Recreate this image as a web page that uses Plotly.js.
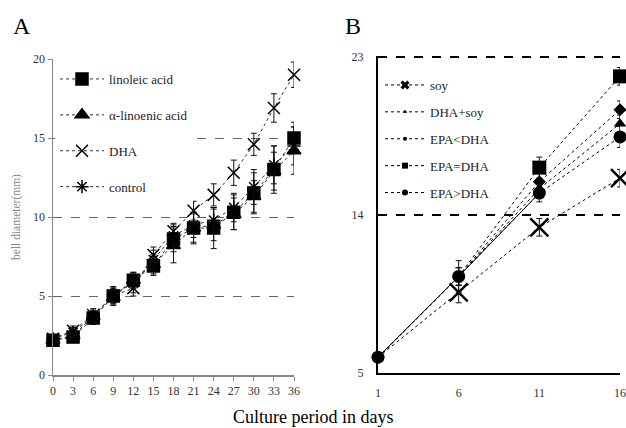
<!DOCTYPE html>
<html>
<head>
<meta charset="utf-8">
<script src="https://cdn.plot.ly/plotly-3.0.1.min.js"></script>
<style>html,body{margin:0;padding:0;background:#fff}#chart{width:626px;height:428px}</style>
</head>
<body>
<div id="chart"></div>
<script>
// Panel A data
var daysA = [0,3,6,9,12,15,18,21,24,27,30,33,36];
var linoleic = [2.2,2.4,3.6,5.0,6.0,6.9,8.6,9.3,9.3,10.3,11.5,13.0,15.0];
var linoleicErr = [0.2,0.3,0.4,0.5,0.5,0.6,0.8,0.9,1.3,1.1,1.3,1.5,1.0];
var alphaLin = [2.2,2.5,3.7,4.9,6.0,7.0,8.2,9.3,9.5,10.2,11.3,12.9,14.2];
var alphaErr = [0.2,0.3,0.4,0.5,0.5,0.6,1.1,1.0,1.0,1.0,1.0,1.2,1.5];
var dhaA = [2.3,2.8,3.8,5.0,5.5,7.6,9.1,10.4,11.4,12.8,14.6,16.9,19.0];
var dhaErr = [0.2,0.3,0.4,0.5,0.5,0.5,0.5,0.6,0.7,0.8,0.7,0.9,0.8];
var control = [2.3,2.7,3.7,5.1,5.8,7.3,8.8,9.5,9.8,10.6,11.9,13.3,14.5];
var controlErr = [0.2,0.3,0.4,0.5,0.6,0.6,0.7,0.8,0.8,0.9,1.1,1.2,1.2];
var namesA = ['linoleic acid','\u03b1-linoenic acid','DHA','control'];
var ticksA = ['0','3','6','9','12','15','18','21','24','27','30','33','36'];

// Panel B data
var daysB = [1,6,11,16];
var soy = [5.9,9.6,13.3,16.1];
var soyErr = [0.2,0.6,0.5,0.5];
var dhaSoy = [5.9,10.5,15.5,19.2];
var dhaSoyErr = [0.2,0.5,0.5,0.5];
var epaLt = [5.9,10.5,15.9,20.0];
var epaLtErr = [0.2,0.5,0.5,0.5];
var epaEq = [5.9,10.5,16.7,21.9];
var epaEqErr = [0.2,0.9,0.6,0.5];
var epaGt = [5.9,10.5,15.25,18.45];
var epaGtErr = [0.2,0.5,0.5,0.6];
var namesB = ['soy','DHA+soy','EPA<DHA','EPA=DHA','EPA>DHA'];

var serif = 'Liberation Serif, Times New Roman, serif';

function serA(y, err, name, symbol, size, grp) {
  return {
    x: daysA, y: y, name: name, type: 'scatter', mode: 'lines+markers',
    xaxis: 'x', yaxis: 'y', legend: 'legend', legendgroup: grp,
    cliponaxis: false,
    line: {color: '#333', width: 1, dash: 'dot'},
    marker: {symbol: symbol, size: size, color: '#000', opacity: 1, line: {color: '#000', width: 1.5}},
    error_y: {type: 'data', array: err, visible: true, color: '#111', thickness: 1, width: 3}
  };
}
function serB(y, err, symbol, size, lw) {
  return {
    x: daysB, y: y, type: 'scatter', mode: 'lines+markers', showlegend: false,
    xaxis: 'x2', yaxis: 'y2', cliponaxis: false,
    line: {color: '#000', width: 1, dash: 'dot'},
    marker: {symbol: symbol, size: size, color: '#000', opacity: 1, line: {color: '#000', width: lw}},
    error_y: {type: 'data', array: err, visible: true, color: '#111', thickness: 1, width: 3}
  };
}
function legB(name, symbol, size, lw, grp) {
  return {
    x: [null], y: [null], name: name, type: 'scatter', mode: 'lines+markers',
    xaxis: 'x2', yaxis: 'y2', legend: 'legend2', legendgroup: grp,
    line: {color: '#000', width: 1, dash: 'dot'},
    marker: {symbol: symbol, size: size, color: '#000', opacity: 1, line: {color: '#000', width: lw}}
  };
}

var data = [
  serA(linoleic, linoleicErr, namesA[0], 'square', 12, 'a1'),
  serA(alphaLin, alphaErr, namesA[1], 'triangle-up', 12, 'a2'),
  serA(dhaA, dhaErr, namesA[2], 'x-thin-open', 12, 'a3'),
  serA(control, controlErr, namesA[3], 'asterisk-open', 11, 'a4'),
  {x: daysB.slice(0,3), y: epaGt.slice(0,3), type: 'scatter', mode: 'lines', showlegend: false,
   xaxis: 'x2', yaxis: 'y2', line: {color: '#000', width: 1}},
  serB(soy, soyErr, 'x-thin-open', [8,18,18,18], 2.5),
  serB(dhaSoy, dhaSoyErr, 'triangle-up', [8,8,11,11], 0),
  serB(epaLt, epaLtErr, 'diamond', 10, 0),
  serB(epaEq, epaEqErr, 'square', [9,9,14,14], 0),
  serB(epaGt, epaGtErr, 'circle', 13, 0),
  legB(namesB[0], 'x', 8, 0, 'b1'),
  legB(namesB[1], 'triangle-up', 4, 0, 'b2'),
  legB(namesB[2], 'circle', 4, 0, 'b3'),
  legB(namesB[3], 'square', 6, 0, 'b4'),
  legB(namesB[4], 'circle', 6, 0, 'b5')
];

var W = 626, H = 428;
var layout = {
  width: W, height: H,
  margin: {l: 0, r: 0, t: 0, b: 0},
  paper_bgcolor: '#fff', plot_bgcolor: 'rgba(0,0,0,0)',
  font: {family: serif, size: 12, color: '#333'},
  xaxis: {
    domain: [53/W, 294/W], range: [0, 36], anchor: 'y',
    tickvals: daysA, ticktext: ticksA,
    showline: true, linecolor: '#888', linewidth: 1.5,
    ticks: 'outside', ticklen: 4, tickcolor: '#888',
    showgrid: false, zeroline: false,
    tickfont: {family: serif, size: 12, color: '#333'}
  },
  yaxis: {
    domain: [(H-375)/H, (H-59)/H], range: [0, 20], anchor: 'x',
    tickvals: [0,5,10,15,20],
    showline: true, linecolor: '#888', linewidth: 1.5,
    ticks: 'outside', ticklen: 4, tickcolor: '#888',
    showgrid: true, gridcolor: '#666', griddash: 'dash', gridwidth: 1,
    zeroline: false,
    tickfont: {family: serif, size: 12, color: '#333'},
    title: {text: 'bell diameter(mm)', font: {family: serif, size: 11.5, color: '#888'}, standoff: 10}
  },
  xaxis2: {
    domain: [378/W, 620/W], range: [1, 16], anchor: 'y2',
    tickvals: daysB,
    showline: true, linecolor: '#000', linewidth: 2,
    ticks: '', ticklabelstandoff: 8,
    showgrid: false, zeroline: false,
    tickfont: {family: serif, size: 12, color: '#333'}
  },
  yaxis2: {
    domain: [(H-373)/H, (H-56)/H], range: [5, 23.06], anchor: 'x2',
    tickvals: [5,14,23],
    showline: true, linecolor: '#000', linewidth: 2,
    ticks: '', ticklabelstandoff: 10,
    showgrid: true, gridcolor: '#000', griddash: 'dash', gridwidth: 2,
    zeroline: false,
    tickfont: {family: serif, size: 12, color: '#333'}
  },
  legend: {
    x: 55/W, y: (H-64)/H, xanchor: 'left', yanchor: 'top',
    bgcolor: '#fff', borderwidth: 0, tracegroupgap: 16, itemwidth: 44,
    font: {family: serif, size: 13, color: '#222'}
  },
  legend2: {
    x: 380/W, y: (H-70)/H, xanchor: 'left', yanchor: 'top',
    bgcolor: 'rgba(0,0,0,0)', borderwidth: 0, tracegroupgap: 7, itemwidth: 40,
    font: {family: serif, size: 13, color: '#222'}
  },
  annotations: [
    {text: 'A', xref: 'paper', yref: 'paper', x: 22/W, y: (H-26)/H, xanchor: 'center', yanchor: 'middle', showarrow: false,
     font: {family: serif, size: 24, color: '#000'}},
    {text: 'B', xref: 'paper', yref: 'paper', x: 353/W, y: (H-26)/H, xanchor: 'center', yanchor: 'middle', showarrow: false,
     font: {family: serif, size: 24, color: '#000'}},
    {text: 'Culture period in days', xref: 'paper', yref: 'paper', x: 313/W, y: (H-417)/H, xanchor: 'center', yanchor: 'middle', showarrow: false,
     font: {family: serif, size: 18, color: '#000'}}
  ]
};

Plotly.newPlot('chart', data, layout, {displayModeBar: false, staticPlot: true});
</script>
</body>
</html>
